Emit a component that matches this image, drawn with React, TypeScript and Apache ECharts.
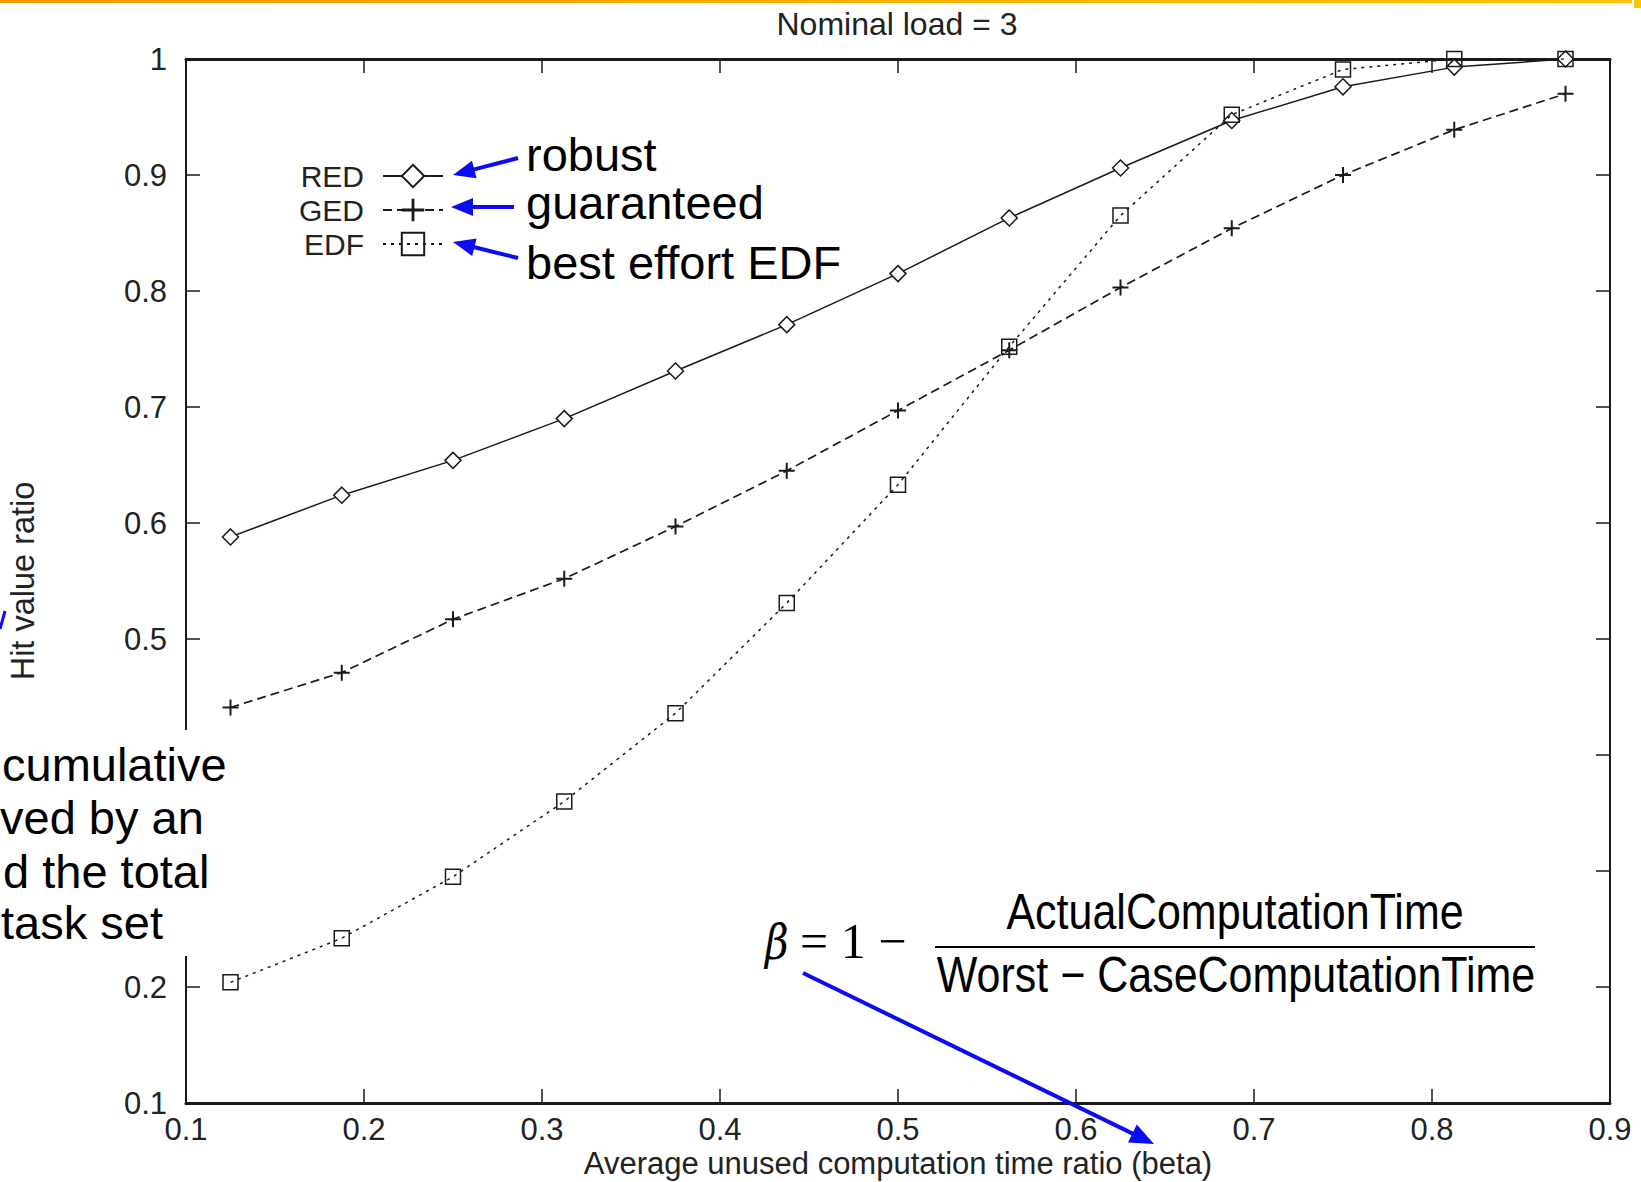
import React, { useEffect, useRef } from "react";
import * as echarts from "echarts";

// ---- data ----
const BETA = [0.125, 0.1875, 0.25, 0.3125, 0.375, 0.4375, 0.5, 0.5625, 0.625, 0.6875, 0.75, 0.8125, 0.875];
const RED = [0.588, 0.624, 0.654, 0.69, 0.731, 0.771, 0.815, 0.863, 0.906, 0.947, 0.976, 0.993, 1.0];
const GED = [0.441, 0.471, 0.517, 0.552, 0.597, 0.645, 0.697, 0.749, 0.803, 0.854, 0.9, 0.939, 0.97];
const EDF = [0.204, 0.242, 0.295, 0.36, 0.436, 0.531, 0.633, 0.752, 0.865, 0.952, 0.991, 1.0, 1.0];

const X_TICK_LABELS = ["0.1", "0.2", "0.3", "0.4", "0.5", "0.6", "0.7", "0.8", "0.9"];
// 0.3 and 0.4 are hidden behind the slide's text box in the reference
const Y_TICK_LABELS = ["0.1", "0.2", "", "", "0.5", "0.6", "0.7", "0.8", "0.9", "1"];

const TITLE = "Nominal load = 3";
const X_NAME = "Average unused computation time ratio (beta)";
const Y_NAME = "Hit value ratio";
const NOTE_LABELS = ["robust", "guaranteed", "best effort EDF"];
const SIDE_LINES = ["cumulative", "ved by an", "d the total", "task set"];

const FONT = '"Liberation Sans", Arial, Helvetica, sans-serif';
const BLUE = "#0b0bf5";
const INK = "#1a1a1a";

const PLUS = "path://M7,0 L9,0 L9,7 L16,7 L16,9 L9,9 L9,16 L7,16 L7,9 L0,9 L0,7 L7,7 Z";

function pairs(ys: number[]) {
  return BETA.map((x, i) => [x, ys[i]]);
}

function tickLabel(list: string[], v: number) {
  const idx = Math.round(v * 10) - 1;
  return list[idx] ?? "";
}

function arrow(x1: number, y1: number, x2: number, y2: number, head = 22, half = 9, width = 4) {
  const dx = x2 - x1;
  const dy = y2 - y1;
  const len = Math.sqrt(dx * dx + dy * dy);
  const ux = dx / len;
  const uy = dy / len;
  const bx = x2 - ux * head;
  const by = y2 - uy * head;
  const px = -uy;
  const py = ux;
  return [
    {
      type: "line",
      z: 60,
      shape: { x1, y1, x2: bx + ux * 2, y2: by + uy * 2 },
      style: { stroke: BLUE, lineWidth: width },
    },
    {
      type: "polygon",
      z: 60,
      shape: {
        points: [
          [x2, y2],
          [bx + px * half, by + py * half],
          [bx - px * half, by - py * half],
        ],
      },
      style: { fill: BLUE },
    },
  ];
}

function txt(text: string, x: number, y: number, font: string, align = "left", extra: any = {}) {
  return {
    type: "text",
    x,
    y,
    z: 60,
    ...extra,
    style: {
      text,
      font,
      fill: "#000",
      align,
      textAlign: align,
      verticalAlign: "middle",
      textVerticalAlign: "middle",
    },
  };
}

export default function App() {
  const ref = useRef<HTMLDivElement>(null);

  useEffect(() => {
    if (!ref.current) return;
    const chart = echarts.init(ref.current, null, { renderer: "svg" });

    const axisLineX = { show: true, lineStyle: { color: INK, width: 3 } };
    const axisLineY = { show: true, lineStyle: { color: INK, width: 2 } };
    const tick = { show: true, inside: true, length: 14, lineStyle: { color: INK, width: 1.5 } };

    const graphics: any[] = [
      {
        type: "rect",
        z: 60,
        shape: { x: 0, y: 0, width: 1632, height: 3 },
        style: {
          fill: new echarts.graphic.LinearGradient(0, 0, 1, 0, [
            { offset: 0, color: "#f29a00" },
            { offset: 1, color: "#ffc400" },
          ]),
        },
      },
      { type: "rect", z: 60, shape: { x: 1634, y: 0, width: 7, height: 8 }, style: { fill: "#ffc400" } },
      // white text box of the slide covering part of the left axis
      { type: "rect", z: 50, shape: { x: 0, y: 730, width: 226, height: 226 }, style: { fill: "#fff" } },
      txt(SIDE_LINES[0], 2, 764, `47px ${FONT}`),
      txt(SIDE_LINES[1], 0, 817, `47px ${FONT}`),
      txt(SIDE_LINES[2], 3, 871, `47px ${FONT}`),
      txt(SIDE_LINES[3], 1, 922, `47px ${FONT}`),
      // blue annotation labels
      txt(NOTE_LABELS[0], 526, 154, `47px ${FONT}`),
      txt(NOTE_LABELS[1], 526, 202, `47px ${FONT}`),
      txt(NOTE_LABELS[2], 526, 262, `47px ${FONT}`),
      ...arrow(518, 158, 453, 175),
      ...arrow(514, 207, 451, 207),
      ...arrow(518, 258, 453, 242),
      ...arrow(803, 973, 1154, 1144, 24, 10),
      {
        type: "line",
        z: 60,
        shape: { x1: 0, y1: 629, x2: 5, y2: 611 },
        style: { stroke: BLUE, lineWidth: 3 },
      },
      // formula
      txt("β", 765, 943, `italic 48px "DejaVu Serif", "Liberation Serif", serif`, "left", { scaleX: 0.85 }),
      txt("= 1 −", 800, 941, `50px "Liberation Serif", "DejaVu Serif", serif`),
      {
        type: "line",
        z: 60,
        shape: { x1: 935, y1: 947, x2: 1535, y2: 947 },
        style: { stroke: "#000", lineWidth: 2 },
      },
      txt("ActualComputationTime", 1235, 912, `50px ${FONT}`, "center", { scaleX: 0.86 }),
      txt("Worst − CaseComputationTime", 1236, 975, `50px ${FONT}`, "center", { scaleX: 0.86 }),
    ];

    const option: any = {
      animation: false,
      backgroundColor: "#fff",
      textStyle: { fontFamily: FONT },
      title: {
        text: TITLE,
        left: 897,
        top: 8,
        padding: 0,
        textAlign: "center",
        textStyle: { fontSize: 32, fontWeight: "normal", color: "#222", fontFamily: FONT },
      },
      grid: {
        left: 186,
        top: 59,
        right: 31,
        bottom: 79,
        containLabel: false,
        outerBoundsMode: "none",
      },
      legend: {
        data: ["RED", "GED", "EDF"],
        orient: "vertical",
        align: "right",
        right: 1197,
        top: 161,
        padding: 0,
        itemWidth: 60,
        itemHeight: 28,
        itemGap: 4,
        selectedMode: false,
        textStyle: { fontSize: 30, color: "#222", fontFamily: FONT, padding: [0, 14, 0, 0] },
      },
      xAxis: [
        {
          type: "value",
          position: "bottom",
          min: 0.1,
          max: 0.9,
          interval: 0.1,
          name: X_NAME,
          nameLocation: "middle",
          nameGap: 45,
          nameMoveOverlap: false,
          nameTextStyle: { fontSize: 31, color: "#222", fontFamily: FONT },
          axisLine: axisLineX,
          axisTick: tick,
          splitLine: { show: false },
          axisLabel: {
            margin: 11,
            fontSize: 31,
            color: "#222",
            fontFamily: FONT,
            formatter: (v: number) => tickLabel(X_TICK_LABELS, v),
          },
        },
        {
          type: "value",
          position: "top",
          min: 0.1,
          max: 0.9,
          interval: 0.1,
          axisLine: axisLineX,
          axisTick: tick,
          splitLine: { show: false },
          axisLabel: { show: false },
        },
      ],
      yAxis: [
        {
          type: "value",
          position: "left",
          min: 0.1,
          max: 1,
          interval: 0.1,
          name: Y_NAME,
          nameLocation: "middle",
          nameRotate: 90,
          nameGap: 147,
          nameTextStyle: { fontSize: 32.5, color: "#222", fontFamily: FONT },
          axisLine: axisLineY,
          axisTick: tick,
          splitLine: { show: false },
          axisLabel: {
            margin: 19,
            fontSize: 31,
            color: "#222",
            fontFamily: FONT,
            formatter: (v: number) => tickLabel(Y_TICK_LABELS, v),
          },
        },
        {
          type: "value",
          position: "right",
          min: 0.1,
          max: 1,
          interval: 0.1,
          axisLine: axisLineY,
          axisTick: tick,
          splitLine: { show: false },
          axisLabel: { show: false },
        },
      ],
      series: [
        {
          name: "RED",
          type: "line",
          data: pairs(RED),
          symbol: "diamond",
          symbolSize: 16,
          showAllSymbol: true,
          lineStyle: { color: INK, width: 1.5, type: "solid" },
          itemStyle: { color: "#fff", borderColor: INK, borderWidth: 1.5 },
          z: 3,
        },
        {
          name: "GED",
          type: "line",
          data: pairs(GED),
          symbol: PLUS,
          symbolSize: 16,
          showAllSymbol: true,
          lineStyle: { color: INK, width: 1.7, type: [9, 5] },
          itemStyle: { color: INK, borderWidth: 0 },
          z: 2,
        },
        {
          name: "EDF",
          type: "line",
          data: pairs(EDF),
          symbol: "rect",
          symbolSize: 15,
          showAllSymbol: true,
          lineStyle: { color: INK, width: 1.5, type: [3, 5] },
          itemStyle: { color: "rgba(255,255,255,0)", borderColor: INK, borderWidth: 1.5 },
          z: 4,
        },
      ],
      graphic: { elements: graphics },
    };

    chart.setOption(option);
    return () => chart.dispose();
  }, []);

  return (
    <div
      ref={ref}
      style={{ position: "absolute", left: 0, top: 0, width: 1641, height: 1182, background: "#fff" }}
    />
  );
}
